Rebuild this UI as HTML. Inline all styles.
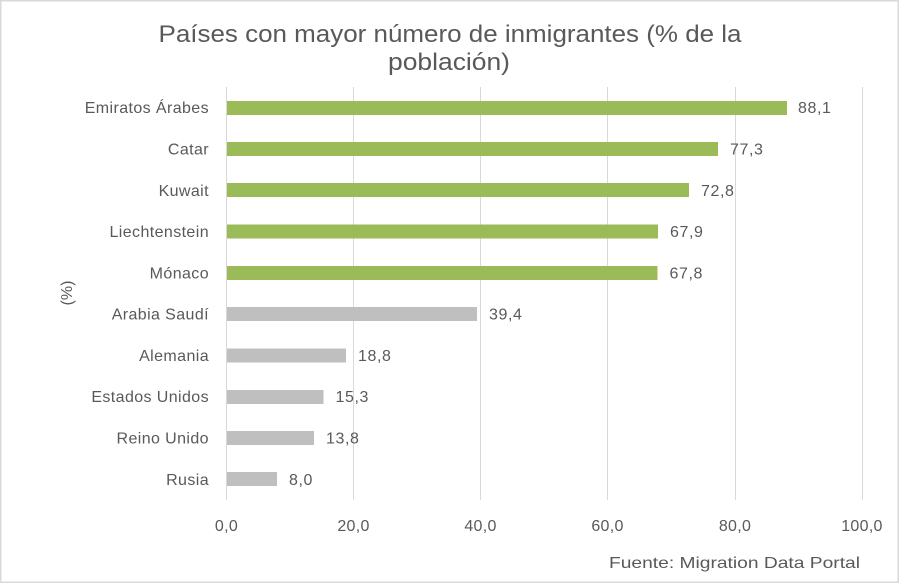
<!DOCTYPE html>
<html><head><meta charset="utf-8"><style>
html,body{margin:0;padding:0;background:#fff;}
svg{display:block;}
text{font-family:"Liberation Sans",Arial,sans-serif;fill:#595959;}
</style></head><body>
<svg width="899" height="583" viewBox="0 0 899 583" xmlns="http://www.w3.org/2000/svg">
<rect x="0" y="0" width="899" height="583" fill="#fff"/>
<rect x="0.75" y="0.75" width="897.5" height="581.5" fill="none" stroke="#D9D9D9" stroke-width="1.5"/>
<text x="450" y="42" font-size="24" text-anchor="middle" textLength="583" lengthAdjust="spacingAndGlyphs">Países con mayor número de inmigrantes (% de la</text>
<text x="449" y="70" font-size="24" text-anchor="middle" textLength="122" lengthAdjust="spacingAndGlyphs">población)</text>
<g stroke="#D9D9D9" stroke-width="1">
<line x1="226.5" y1="87" x2="226.5" y2="500"/>
<line x1="353.5" y1="87" x2="353.5" y2="500"/>
<line x1="480.5" y1="87" x2="480.5" y2="500"/>
<line x1="607.5" y1="87" x2="607.5" y2="500"/>
<line x1="735.5" y1="87" x2="735.5" y2="500"/>
<line x1="862.5" y1="87" x2="862.5" y2="500"/>
</g>
<g fill="#9BBB59">
<rect x="227" y="101" width="560" height="14"/>
<rect x="227" y="142" width="491" height="14"/>
<rect x="227" y="183" width="462" height="14"/>
<rect x="227" y="224.5" width="431" height="14"/>
<rect x="227" y="266" width="430.5" height="14"/>
</g>
<g fill="#BFBFBF">
<rect x="227" y="307" width="250" height="14"/>
<rect x="227" y="348.5" width="119" height="14"/>
<rect x="227" y="390" width="96.5" height="14"/>
<rect x="227" y="431" width="87" height="14"/>
<rect x="227" y="472" width="50" height="14"/>
</g>
<g font-size="16" text-anchor="end" letter-spacing="0.4">
<text x="209" y="113">Emiratos Árabes</text>
<text x="209" y="154.5">Catar</text>
<text x="209" y="196">Kuwait</text>
<text x="209" y="237">Liechtenstein</text>
<text x="209" y="278.5">Mónaco</text>
<text x="209" y="319.5">Arabia Saudí</text>
<text x="209" y="361">Alemania</text>
<text x="209" y="402">Estados Unidos</text>
<text x="209" y="443.5">Reino Unido</text>
<text x="209" y="485">Rusia</text>
</g>
<g font-size="16" letter-spacing="0.6">
<text x="798" y="113">88,1</text>
<text x="730" y="154.5">77,3</text>
<text x="701" y="196">72,8</text>
<text x="670" y="237">67,9</text>
<text x="669.5" y="278.5">67,8</text>
<text x="489" y="319.5">39,4</text>
<text x="358" y="361">18,8</text>
<text x="335.5" y="402">15,3</text>
<text x="326" y="443.5">13,8</text>
<text x="289" y="485">8,0</text>
</g>
<g font-size="16" text-anchor="middle" letter-spacing="0.3">
<text x="226.5" y="531">0,0</text>
<text x="353.5" y="531">20,0</text>
<text x="480.5" y="531">40,0</text>
<text x="607.5" y="531">60,0</text>
<text x="735" y="531">80,0</text>
<text x="862" y="531">100,0</text>
</g>
<text x="0" y="0" font-size="16" text-anchor="middle" transform="translate(72,293) rotate(-90)">(%)</text>
<text x="860" y="568" font-size="16" text-anchor="end" textLength="251" lengthAdjust="spacingAndGlyphs">Fuente: Migration Data Portal</text>
</svg>
</body></html>
